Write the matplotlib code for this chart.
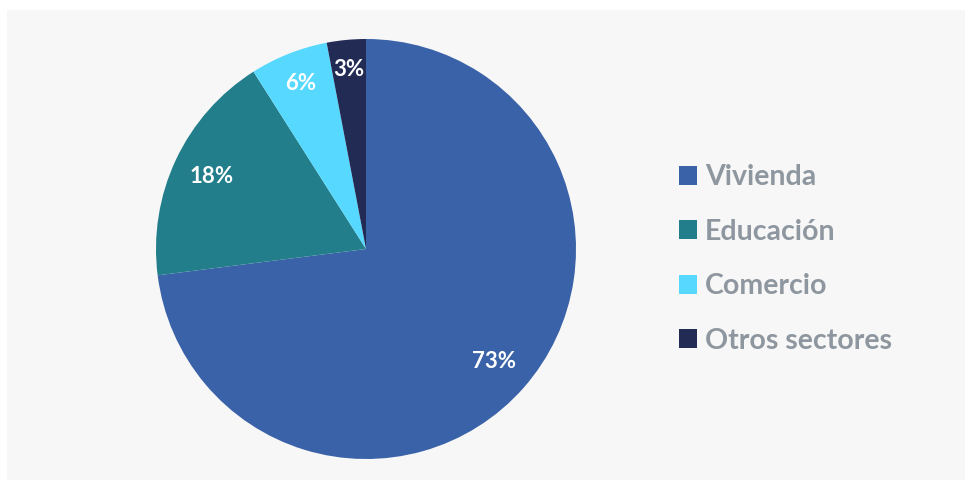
import numpy as np
import matplotlib.pyplot as plt
from matplotlib.patches import Rectangle, Patch

# Datos del gráfico
sectores = ['Vivienda', 'Educación', 'Comercio', 'Otros sectores']
porcentajes = [73, 18, 6, 3]
colores = ['#3a62a8', '#217e8a', '#57d9ff', '#212b54']

plt.rcParams['font.family'] = ['Lato', 'DejaVu Sans']

fig = plt.figure(figsize=(9.68, 4.8), dpi=100)
fig.patch.set_facecolor('white')

# Panel gris de fondo
fig.patches.append(Rectangle((7 / 968, 0), 958 / 968, 470 / 480,
                             transform=fig.transFigure, facecolor='#f7f7f7',
                             edgecolor='none', zorder=-1))

ax = fig.add_axes([(366 - 210) / 968, (480 - 249 - 210) / 480, 420 / 968, 420 / 480])
ax.set_facecolor('none')

wedges, _ = ax.pie(porcentajes, colors=colores, startangle=90, counterclock=False,
                   wedgeprops=dict(linewidth=0))
ax.set_xlim(-1, 1)
ax.set_ylim(-1, 1)
ax.set_aspect('equal')

# Etiquetas de porcentaje
distancias = [0.81, 0.81, 0.85, 0.86]
for w, p, d in zip(wedges, porcentajes, distancias):
    ang = np.deg2rad((w.theta1 + w.theta2) / 2)
    ax.text(d * np.cos(ang), d * np.sin(ang), f'{p}%', ha='center', va='center',
            color='white', fontsize=16, fontweight='bold')

# Leyenda
handles = [Patch(facecolor=c, edgecolor='none') for c in colores]
fig.legend(handles, sectores, loc='center left', bbox_to_anchor=(653 / 968, 1 - 259 / 480),
           frameon=False, handlelength=0.63, handleheight=0.63, handletextpad=0.3,
           labelspacing=1.0, prop=dict(size=20.5, weight='bold'), labelcolor='#8e979f')

plt.savefig('out.png', dpi=100, facecolor=fig.get_facecolor())
